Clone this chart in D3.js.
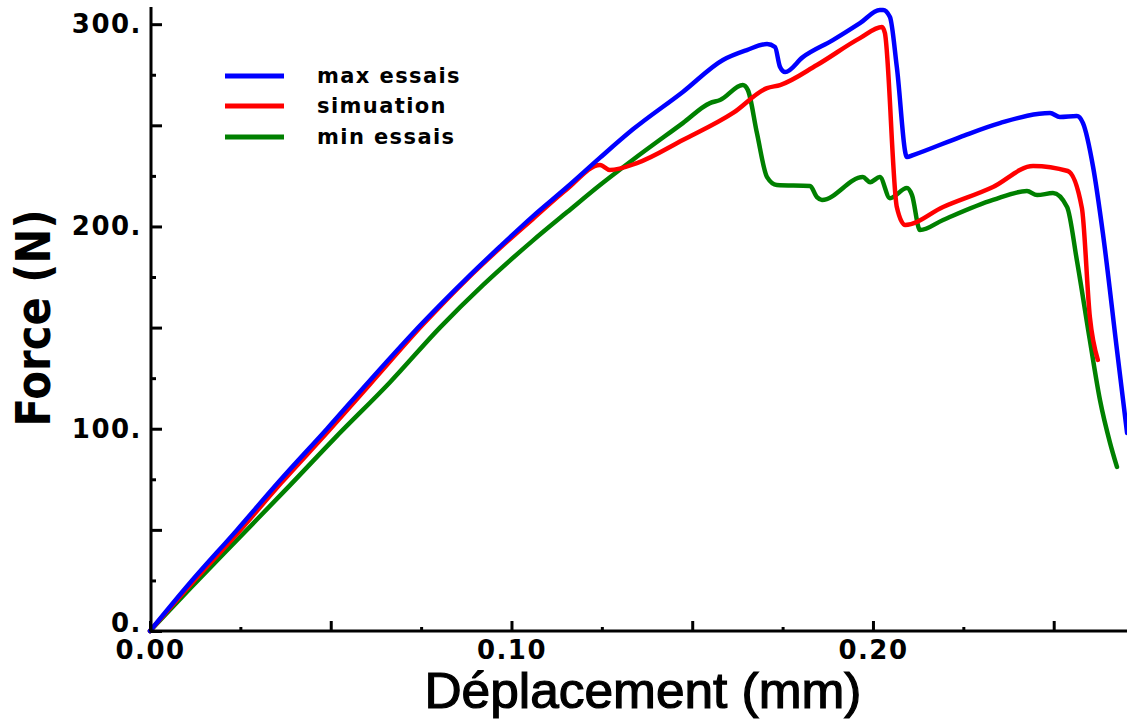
<!DOCTYPE html>
<html>
<head>
<meta charset="utf-8">
<script src="https://cdn.jsdelivr.net/npm/d3@7"></script>
<style>
  html, body { margin: 0; padding: 0; background: #fff; }
  svg { display: block; }
</style>
</head>
<body>
<svg id="chart" width="1127" height="719"></svg>
<script>
// ---- data ----
const seriesNames = ["max essais", "simuation", "min essais"];
const seriesColors = ["#0000ff", "#ff0000", "#008000"];

const maxEssaisX = [0, 0.0102, 0.0241, 0.0360, 0.0490, 0.0609, 0.0755, 0.0877, 0.0968, 0.1059, 0.1154, 0.1245, 0.1336, 0.1474, 0.1585, 0.1651, 0.1707, 0.1729, 0.1743, 0.1757, 0.1806, 0.1889, 0.1964, 0.2019, 0.2028, 0.2047, 0.2066, 0.2094, 0.2111, 0.2241, 0.2351, 0.2490, 0.2517, 0.2564, 0.2581, 0.2609, 0.2636, 0.2675, 0.2703];
const maxEssaisY = [0, 22.0, 50.0, 74.5, 100.0, 124.0, 152.5, 174.5, 190.0, 205.0, 219.5, 234.0, 248.0, 266.5, 282.3, 287.2, 290.2, 288.7, 278.8, 276.3, 283.7, 292.1, 300.5, 307.0, 307.0, 303.5, 278.8, 234.3, 235.3, 244.2, 251.1, 256.1, 254.1, 254.6, 251.1, 229.4, 196.7, 138.9, 97.9];

const simulationX = [0, 0.0105, 0.0243, 0.0362, 0.0492, 0.0611, 0.0755, 0.0877, 0.0968, 0.1059, 0.1154, 0.1245, 0.1272, 0.1347, 0.1474, 0.1613, 0.1707, 0.1743, 0.1845, 0.1964, 0.2025, 0.2033, 0.2066, 0.2089, 0.2194, 0.2332, 0.2443, 0.2539, 0.2578, 0.2600, 0.2622];
const simulationY = [0, 21.5, 48.5, 73.0, 98.5, 122.5, 151.5, 174.0, 189.3, 203.7, 218.5, 230.4, 227.9, 231.3, 242.7, 256.1, 268.4, 269.9, 279.8, 293.1, 298.6, 295.6, 209.6, 200.7, 209.6, 219.5, 229.9, 227.4, 209.1, 155.2, 134.0];

const minEssaisX = [0, 0.0111, 0.0249, 0.0387, 0.0512, 0.0664, 0.0802, 0.0921, 0.1059, 0.1154, 0.1245, 0.1336, 0.1474, 0.1549, 0.1577, 0.1640, 0.1654, 0.1679, 0.1707, 0.1734, 0.1826, 0.1845, 0.1859, 0.1972, 0.1992, 0.2019, 0.2047, 0.2094, 0.2108, 0.2130, 0.2194, 0.2332, 0.2426, 0.2454, 0.2498, 0.2537, 0.2564, 0.2600, 0.2628, 0.2656, 0.2675];
const minEssaisY = [0, 21.0, 46.5, 72.0, 95.5, 123.0, 150.0, 171.0, 193.0, 207.1, 220.5, 233.0, 251.1, 261.0, 262.5, 269.9, 267.4, 246.2, 224.4, 220.5, 220.0, 214.5, 213.1, 224.4, 221.9, 224.4, 214.0, 219.0, 215.5, 198.2, 203.2, 213.1, 217.5, 215.5, 216.5, 209.6, 183.4, 143.8, 114.2, 92.9, 81.1];

const xLabelTicks = [0, 0.1, 0.2];
const xMidTicks = [0.05, 0.15, 0.25];
const xMinorTicks = [0.025, 0.075, 0.125, 0.175, 0.225];
const yLabelTicks = [0, 100, 200, 300];
const yMidTicks = [50, 150, 250];
const yMinorTicks = [25, 75, 125, 175, 225, 275];

const xTitle = "Déplacement (mm)";
const yTitle = "Force (N)";

// ---- layout ----
const svg = d3.select("#chart");
const x = d3.scaleLinear().domain([0, 0.27]).range([150, 1126]);
const y = d3.scaleLinear().domain([0, 308]).range([631, 8]);

const series = [
  {name: seriesNames[0], color: seriesColors[0], xs: maxEssaisX, ys: maxEssaisY},
  {name: seriesNames[1], color: seriesColors[1], xs: simulationX, ys: simulationY},
  {name: seriesNames[2], color: seriesColors[2], xs: minEssaisX, ys: minEssaisY}
];

const line = d3.line().x(d => x(d[0])).y(d => y(d[1])).curve(d3.curveMonotoneX);

[series[2], series[1], series[0]].forEach(s => {
  const pts = s.xs.map((v, i) => [v, s.ys[i]]);
  svg.append("path")
    .datum(pts)
    .attr("d", line)
    .attr("fill", "none")
    .attr("stroke", s.color)
    .attr("stroke-width", 4.5)
    .attr("stroke-linejoin", "round")
    .attr("stroke-linecap", "round");
});

// ---- axes ----
const tickFont = "'DejaVu Sans', Verdana, sans-serif";

function styleAxis(g) {
  g.select(".domain").remove();
  g.selectAll(".tick line").attr("stroke", "#000").attr("stroke-width", 3);
}

// x axis
const gx = svg.append("g").attr("transform", `translate(0,${y(0)})`);
gx.append("g").call(d3.axisBottom(x).tickValues(xMinorTicks).tickSizeInner(-4).tickSizeOuter(0).tickFormat(""))
  .call(styleAxis);
gx.append("g").call(d3.axisBottom(x).tickValues(xMidTicks).tickSizeInner(-10).tickSizeOuter(0).tickFormat(""))
  .call(styleAxis);
gx.append("g").call(d3.axisBottom(x).tickValues(xLabelTicks).tickSizeInner(-10).tickSizeOuter(0).tickPadding(10)
    .tickFormat(d3.format(".2f")))
  .call(styleAxis)
  .call(g => g.selectAll(".tick text")
    .attr("font-family", tickFont).attr("font-weight", "bold").attr("font-size", 26)
    .attr("letter-spacing", 1.5).attr("fill", "#000"));
gx.append("line").attr("x1", 150).attr("x2", 1127).attr("y1", 0).attr("y2", 0)
  .attr("stroke", "#000").attr("stroke-width", 3);

// y axis
const gy = svg.append("g").attr("transform", `translate(${x(0) + 1},0)`);
gy.append("g").call(d3.axisLeft(y).tickValues(yMinorTicks).tickSizeInner(-5).tickSizeOuter(0).tickFormat(""))
  .call(styleAxis);
gy.append("g").call(d3.axisLeft(y).tickValues(yMidTicks).tickSizeInner(-11).tickSizeOuter(0).tickFormat(""))
  .call(styleAxis);
gy.append("g").call(d3.axisLeft(y).tickValues(yLabelTicks).tickSizeInner(-11).tickSizeOuter(0).tickPadding(9)
    .tickFormat(d => d3.format("d")(d) + "."))
  .call(styleAxis)
  .call(g => g.selectAll(".tick text")
    .attr("font-family", tickFont).attr("font-weight", "bold").attr("font-size", 26)
    .attr("letter-spacing", 1.5).attr("fill", "#000"))
  .call(g => g.selectAll(".tick").filter(d => d === 0).select("text").attr("dy", "0em"));
gy.append("line").attr("x1", 0).attr("x2", 0).attr("y1", 7).attr("y2", y(0) + 1.5)
  .attr("stroke", "#000").attr("stroke-width", 3);

// axis titles
svg.append("text")
  .attr("x", 643).attr("y", 708)
  .attr("text-anchor", "middle")
  .attr("font-family", "'Liberation Sans', Arial, sans-serif")
  .attr("font-size", 50)
  .attr("stroke", "#000").attr("stroke-width", 1.2)
  .attr("textLength", 437).attr("lengthAdjust", "spacingAndGlyphs")
  .text(xTitle);

svg.append("text")
  .attr("transform", "translate(50,318) rotate(-90)")
  .attr("text-anchor", "middle")
  .attr("font-family", "'DejaVu Sans', Verdana, sans-serif")
  .attr("font-weight", "bold")
  .attr("font-size", 48)
  .attr("textLength", 217).attr("lengthAdjust", "spacingAndGlyphs")
  .text(yTitle);

// legend
const legend = svg.append("g");
const legendY = [76, 106, 137];
series.forEach((s, i) => {
  legend.append("line")
    .attr("x1", 225).attr("x2", 284)
    .attr("y1", legendY[i]).attr("y2", legendY[i])
    .attr("stroke", s.color).attr("stroke-width", 5);
  legend.append("text")
    .attr("x", 317).attr("y", legendY[i] + 7)
    .attr("font-family", tickFont).attr("font-weight", "bold")
    .attr("font-size", 21).attr("letter-spacing", 1.4)
    .attr("fill", "#000")
    .text(s.name);
});
</script>
</body>
</html>
